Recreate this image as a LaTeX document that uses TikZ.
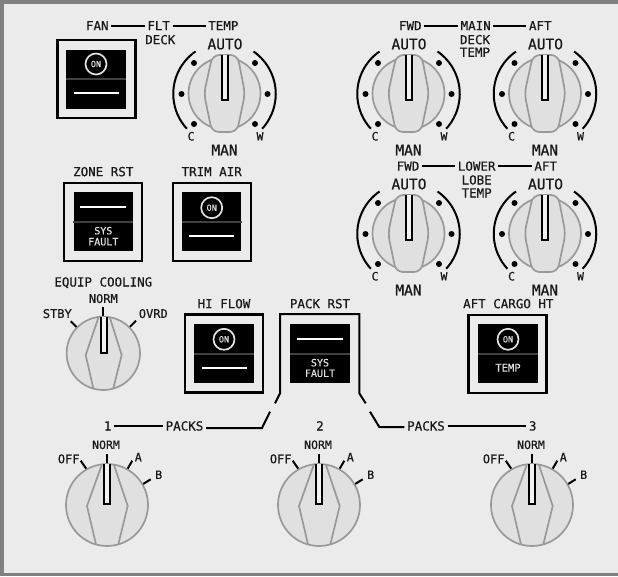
\documentclass[tikz,border=0pt]{standalone}
\usepackage{fontspec}
\setmainfont{DejaVu Sans Mono}[FakeBold=0.5]
\definecolor{panel}{HTML}{EBEBEB}
\definecolor{rimg}{HTML}{808080}
\definecolor{knobg}{HTML}{999999}
\definecolor{knobf}{HTML}{E0E0E0}
\definecolor{sepg}{HTML}{404040}
\definecolor{legend}{HTML}{E0E0E0}
\definecolor{ptrf}{HTML}{F2F2F2}
\tikzset{
  x=1pt,y=-1pt,
  lbl/.style={inner sep=2.5pt,font=\fontsize{12.5}{12.5}\selectfont,text height=9pt,text depth=0pt,text=black!90},
  biglbl/.style={inner sep=1pt,font=\fontsize{14.5}{14.5}\selectfont,text height=10.5pt,text depth=0pt,text=black!90},
  smalllbl/.style={inner sep=0pt,font=\fontsize{11.5}{11.5}\selectfont,text height=8.5pt,text depth=0pt,text=black!90},
  lamp/.style={inner sep=0pt,font=\fontsize{10}{10}\selectfont,text=legend},
  lead/.style={draw=black,line width=2pt},
  frame/.style={draw=black,line width=2.2pt,fill=panel,minimum width=78pt,minimum height=78pt,inner sep=0pt},
  face/.style={fill=black,minimum width=59.5pt,minimum height=59pt,inner sep=0pt},
  sep/.style={draw=sepg,line width=1.7pt},
  wbar/.style={draw=white,line width=2pt},
  onring/.style={draw=legend,line width=1.7pt,circle,minimum size=21pt,inner sep=0pt,font=\fontsize{8.5}{8.5}\selectfont,text=legend},
  knobline/.style={draw=knobg,line width=1.7pt,fill=knobf},
  kline/.style={draw=knobg,line width=1.7pt},
  pointer/.style={draw=black,fill=ptrf,line width=2pt},
  tick/.style={draw=black,line width=2pt},
  arcline/.style={draw=black,line width=2pt},
  dot/.style={fill=black,circle,inner sep=0pt,minimum size=6pt},
}
% temperature rotary selector: #1 name, #2 x, #3 y
\newcommand{\tempknob}[3]{%
  \begin{scope}[shift={(#2,#3)}]
    \draw[arcline] (-29,-42) arc[start angle=124.6,end angle=222.6,x radius=51.5,y radius=-51.5];
    \draw[arcline] (29,-42) arc[start angle=55.4,end angle=-42.6,x radius=51.5,y radius=-51.5];
    \node[dot] (#1d1) at (-30.5,-30.5) {};
    \node[dot] (#1d2) at (30.5,-30.5) {};
    \node[dot] (#1d3) at (-43,0.5) {};
    \node[dot] (#1d4) at (43,0.5) {};
    \node[dot] (#1d5) at (-30.5,30.5) {};
    \node[dot] (#1d6) at (30.5,30.5) {};
    \draw[knobline] (0,0) circle[radius=36];
    \draw[knobline,rounded corners=7pt] (-12,-38.5) -- (13,-38.5) -- (20.5,0) -- (12.5,38.5) -- (-12.5,38.5) -- (-20.5,0) -- cycle;
    \draw[pointer] (-2.8,-38.5) -- (-2.8,6.5) -- (3,6.5) -- (3,-38.5);
    \node[smalllbl] (#1c) at (-33.5,42.7) {C};
    \node[smalllbl] (#1w) at (35.5,42.7) {W};
    \node[biglbl] (#1auto) at (0.5,-49.5) {AUTO};
    \node[biglbl] (#1man) at (0,56.5) {MAN};
  \end{scope}}
% pack selector: #1 name, #2 x
\newcommand{\packknob}[2]{%
  \begin{scope}[shift={(#2,505)}]
    \draw[tick] (-0.3,-51) -- (-0.3,-41);
    \draw[tick] (-26.3,-44.3) -- (-20.3,-35.7);
    \draw[tick] (25.3,-44.3) -- (20.3,-35.7);
    \draw[tick] (43.7,-25.7) -- (35,-20.3);
    \draw[knobline] (0,0) circle[radius=41];
    \draw[kline] (-5.3,-40) -- (-20,1) -- (-11,39.4);
    \draw[kline] (7,-40) -- (20.7,1) -- (11.3,39.4);
    \draw[pointer] (-2.6,-40.7) -- (-2.6,-0.7) -- (3.4,-0.7) -- (3.4,-40.7);
    \node[smalllbl] (#1norm) at (-1,-60.3) {NORM};
    \node[smalllbl,font=\fontsize{12}{12}\selectfont] (#1off) at (-38.3,-46) {OFF};
    \node[smalllbl] (#1a) at (31.3,-48) {A};
    \node[smalllbl] (#1b) at (51.7,-30.3) {B};
  \end{scope}}
\newcommand{\lampbar}[3]{\draw[wbar] (#1,#3) -- (#2,#3);}
\begin{document}
\begin{tikzpicture}
\useasboundingbox (0,0) rectangle (618,576);
\fill[rimg] (0,0) rectangle (618,576);
\fill[panel] (4,4) rectangle (618,573);

% ---------- flight deck
\node[frame] (fdsw) at (96.5,79) {};
\node[face] (fdface) at (96,79) {};
\draw[sep] (fdface.west |- 0,79) -- (fdface.east |- 0,79);
\node[onring] (fdon) at (96,64) {ON};
\lampbar{74}{119}{92.7}
\tempknob{fd}{224.5}{93.5}
\node[lbl] (fan) at (97.3,25.7) {FAN};
\node[lbl] (flt) at (158.7,25.7) {FLT};
\node[lbl] (fdtemp) at (223.3,25.7) {TEMP};
\node[lbl] (fddeck) at (160.3,39.7) {DECK};
\draw[lead] (fan) -- (flt);
\draw[lead] (flt) -- (fdtemp);

% ---------- main deck
\tempknob{mf}{408.5}{93.5}
\tempknob{ma}{545}{93.5}
\node[lbl] (mfwd) at (410.3,25.7) {FWD};
\node[lbl] (main) at (475.7,25.7) {MAIN};
\node[lbl] (maft) at (540.3,25.7) {AFT};
\node[lbl] (mdeck) at (475,39.7) {DECK};
\node[lbl] (mtemp) at (475,52.3) {TEMP};
\draw[lead] (mfwd) -- (main);
\draw[lead] (main) -- (maft);

% ---------- lower lobe
\tempknob{lf}{408.5}{233.5}
\tempknob{la}{545}{233.5}
\node[lbl] (lfwd) at (408,166.2) {FWD};
\node[lbl] (lower) at (476.7,166.2) {LOWER};
\node[lbl] (laft) at (545.7,166.2) {AFT};
\node[lbl] (llobe) at (476.7,180) {LOBE};
\node[lbl] (ltemp) at (476.7,193) {TEMP};
\draw[lead] (lfwd) -- (lower);
\draw[lead] (lower) -- (laft);

% ---------- zone rst
\node[lbl] (zonelbl) at (103.3,171.7) {ZONE RST};
\node[frame] (zonesw) at (103.3,221.7) {};
\node[face] (zoneface) at (103.3,221.7) {};
\draw[sep] (zoneface.west |- 0,221.7) -- (zoneface.east |- 0,221.7);
\lampbar{80}{126}{207}
\node[lamp] (zonesys) at (103.3,230.7) {SYS};
\node[lamp] (zonefault) at (103.3,241.7) {FAULT};

% ---------- trim air
\node[lbl] (trimlbl) at (211.7,171.7) {TRIM AIR};
\node[frame] (trimsw) at (212,221.7) {};
\node[face] (trimface) at (211.7,221.7) {};
\draw[sep] (trimface.west |- 0,221.7) -- (trimface.east |- 0,221.7);
\node[onring] (trimon) at (211.7,207.7) {ON};
\lampbar{189}{234}{236}

% ---------- equip cooling
\node[lbl] (eqlbl) at (103.3,282) {EQUIP COOLING};
\draw[tick] (102.7,306.7) -- (102.7,317);
\draw[tick] (70.7,321.3) -- (77.3,327.7);
\draw[tick] (136,320.7) -- (129,327.7);
\draw[knobline] (103.3,353.3) circle[radius=36.7];
\draw[kline] (98.3,318) -- (85.7,355) -- (93.3,388.3);
\draw[kline] (110,318) -- (121.7,355) -- (113.3,388.3);
\draw[pointer] (101.2,317.3) -- (101.2,352.7) -- (106.8,352.7) -- (106.8,317.3);
\node[smalllbl,font=\fontsize{12}{12}\selectfont] (eqnorm) at (103.3,298.7) {NORM};
\node[smalllbl,font=\fontsize{12}{12}\selectfont] (eqstby) at (57.3,313.7) {STBY};
\node[smalllbl,font=\fontsize{12}{12}\selectfont] (eqovrd) at (153.3,313.7) {OVRD};

% ---------- hi flow
\node[lbl] (hilbl) at (224,303.7) {HI FLOW};
\node[frame] (hisw) at (224.3,353.5) {};
\node[face] (hiface) at (224,353.5) {};
\draw[sep] (hiface.west |- 0,353.7) -- (hiface.east |- 0,353.7);
\node[onring] (hion) at (224,339.3) {ON};
\lampbar{202}{247}{367.7}

% ---------- pack rst
\node[lbl] (packlbl) at (320,303.7) {PACK RST};
\node[face] (packface) at (320,353.7) {};
\draw[sep] (packface.west |- 0,353.7) -- (packface.east |- 0,353.7);
\lampbar{297}{343}{339}
\node[lamp] (packsys) at (320,362.7) {SYS};
\node[lamp] (packfault) at (320,373.3) {FAULT};

% ---------- aft cargo
\node[lbl] (aftlbl) at (508.3,303.7) {AFT CARGO HT};
\node[frame] (aftsw) at (507.5,353.7) {};
\node[face] (aftface) at (508,353.7) {};
\draw[sep] (aftface.west |- 0,353.7) -- (aftface.east |- 0,353.7);
\node[onring] (afton) at (508,339.3) {ON};
\node[lamp,font=\fontsize{10.5}{10.5}\selectfont] (afttemp) at (508,367.7) {TEMP};

% ---------- packs legend
\node[lbl] (p1) at (107.7,426) {1};
\node[lbl] (p2) at (320,426) {2};
\node[lbl] (p3) at (532.7,426) {3};
\node[lbl] (packsl) at (184.5,426) {PACKS};
\node[lbl] (packsr) at (426,426) {PACKS};
\coordinate (lel) at (262,428);
\coordinate (ltop) at (270,411.7);
\coordinate (lgapb) at (275,403.3);
\coordinate (lcor) at (280,393.3);
\coordinate (ltl) at (280,314);
\coordinate (ttr) at (359.3,314);
\coordinate (rcor) at (359.3,393.3);
\coordinate (rgapb) at (365.7,403.3);
\coordinate (rtop) at (370,411.7);
\coordinate (rel) at (379.3,427);
\draw[lead] (p1) -- (packsl);
\draw[lead] (packsl.east |- lel) -- (lel) -- (ltop);
\draw[lead] (lgapb) -- (lcor) -- (ltl) -- (ttr) -- (rcor) -- (rgapb);
\draw[lead] (rtop) -- (rel) -- (packsr.west |- rel);
\draw[lead] (packsr) -- (p3);

\packknob{pa}{107}
\packknob{pb}{319}
\packknob{pc}{532}
\end{tikzpicture}
\end{document}
